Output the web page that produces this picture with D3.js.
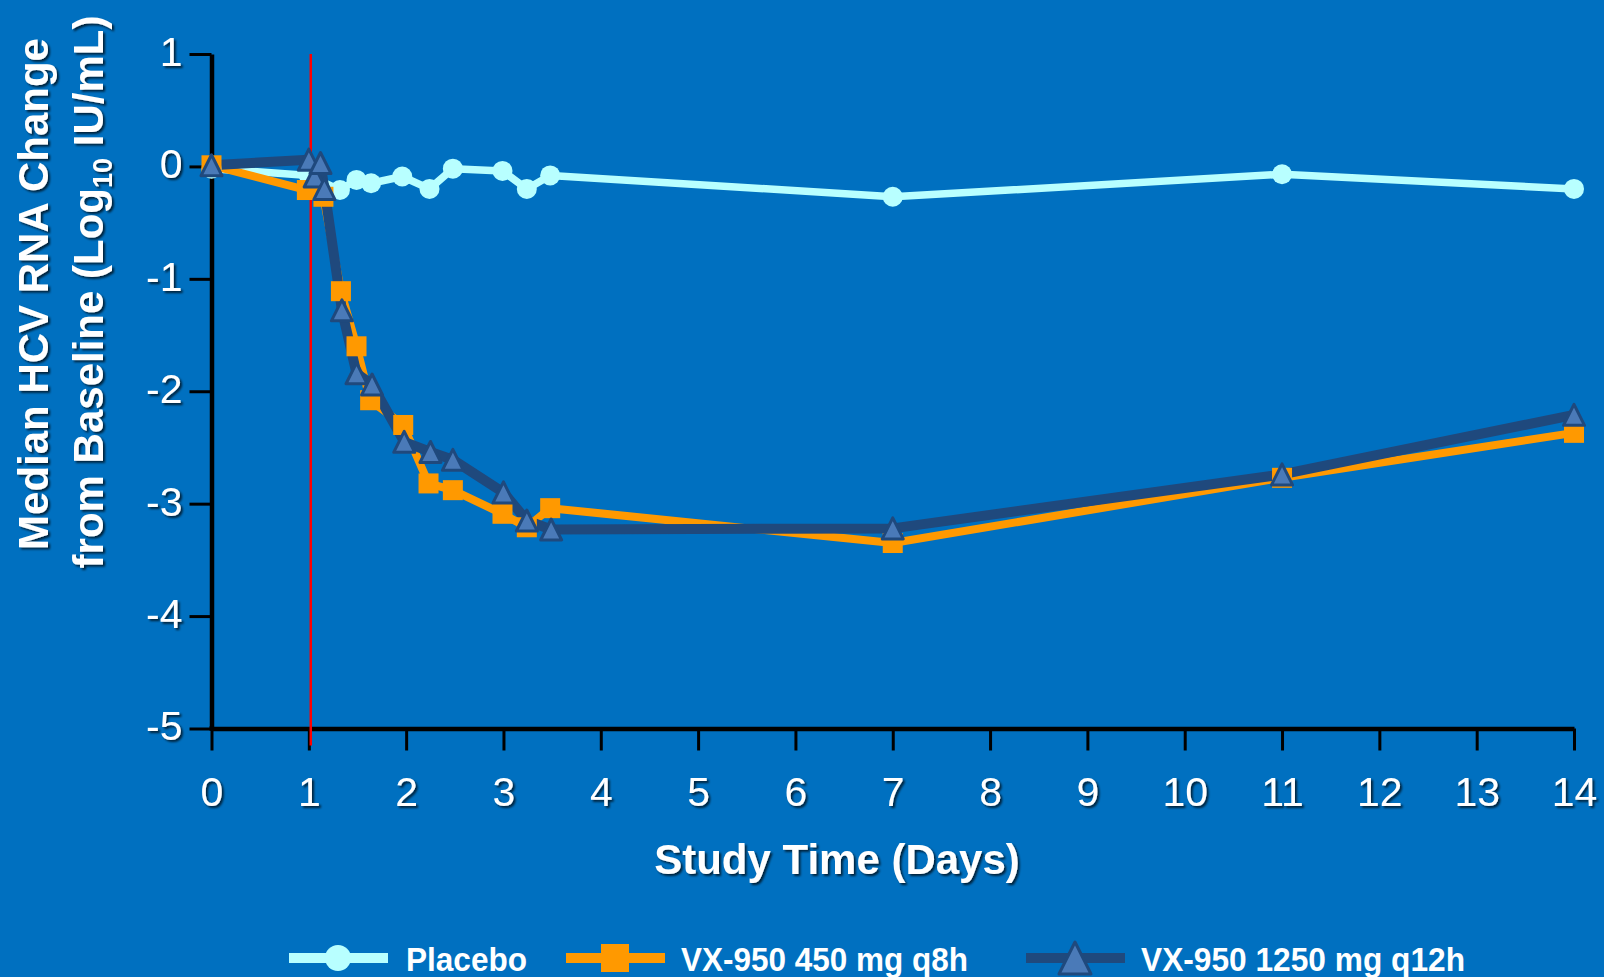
<!DOCTYPE html>
<html>
<head>
<meta charset="utf-8">
<script src="https://cdn.jsdelivr.net/npm/d3@7"></script>
<style>
  html, body { margin: 0; padding: 0; background: #0070c0; }
  svg { display: block; }
  text { font-family: Arial, "Liberation Sans", sans-serif; fill: #fff; }
</style>
</head>
<body>
<div id="chart"></div>
<script>
// x ticks / y ticks
var xTicks = [0, 1, 2, 3, 4, 5, 6, 7, 8, 9, 10, 11, 12, 13, 14];
var yTicks = [1, 0, -1, -2, -3, -4, -5];
var doseDay = 1.02;

// Placebo
var placeboDays = [0, 1, 1.32, 1.49, 1.64, 1.96, 2.24, 2.48, 2.99, 3.24, 3.48, 7, 11, 14];
var placeboVals = [-0.02, -0.08, -0.21, -0.12, -0.15, -0.09, -0.2, -0.02, -0.04, -0.2, -0.08, -0.27, -0.07, -0.2];

// VX-950 450 mg q8h
var q8Days = [0, 0.98, 1.15, 1.33, 1.49, 1.63, 1.97, 2.23, 2.48, 2.99, 3.24, 3.48, 7, 11, 14];
var q8Vals = [0.01, -0.21, -0.27, -1.11, -1.6, -2.08, -2.3, -2.82, -2.88, -3.09, -3.21, -3.04, -3.35, -2.77, -2.37];

// VX-950 1250 mg q12h
var q12Days = [0, 1.0, 1.06, 1.12, 1.16, 1.34, 1.49, 1.65, 1.98, 2.25, 2.48, 3.0, 3.24, 3.49, 7, 11, 14];
var q12Vals = [0.01, 0.06, -0.09, 0.03, -0.2, -1.28, -1.84, -1.94, -2.45, -2.54, -2.61, -2.9, -3.15, -3.23, -3.22, -2.74, -2.21];

var seriesNames = ["Placebo", "VX-950 450 mg q8h", "VX-950 1250 mg q12h"];

var W = 1604, H = 977;
var svg = d3.select("#chart").append("svg")
    .attr("width", W)
    .attr("height", H);

svg.append("rect").attr("width", W).attr("height", H).attr("fill", "#0070c0");

var defs = svg.append("defs");
var shadow = defs.append("filter").attr("id", "shadow")
    .attr("x", "-20%").attr("y", "-20%").attr("width", "140%").attr("height", "140%");
shadow.append("feDropShadow")
    .attr("dx", 2).attr("dy", 2).attr("stdDeviation", 1)
    .attr("flood-color", "#000").attr("flood-opacity", 0.7);

var x = d3.scaleLinear().domain([0, 14]).range([211.5, 1574]);
var y = d3.scaleLinear().domain([-5, 1]).range([728.5, 54]);

// axes
var yAxis = svg.append("g")
    .attr("transform", "translate(" + x(0) + ",0)")
    .call(d3.axisLeft(y).tickValues(yTicks).tickSize(22).tickSizeOuter(0).tickPadding(7)
        .tickFormat(function(d) { return String(d); }));
var xAxis = svg.append("g")
    .attr("transform", "translate(0," + y(-5) + ")")
    .call(d3.axisBottom(x).tickValues(xTicks).tickSize(22).tickSizeOuter(0).tickPadding(26));

[xAxis, yAxis].forEach(function(g) {
    g.select(".domain").attr("stroke", "#000").attr("stroke-width", 4.5);
    g.selectAll(".tick line").attr("stroke", "#000").attr("stroke-width", 3);
    g.selectAll(".tick text")
        .attr("fill", "#fff")
        .attr("font-size", 41)
        .attr("font-family", "Arial, 'Liberation Sans', sans-serif")
        .attr("filter", "url(#shadow)");
});
yAxis.selectAll(".tick text").attr("dy", "0.28em");
// extend the x axis line back under the y axis
svg.append("line")
    .attr("x1", x(0) - 2).attr("x2", x(0) + 2)
    .attr("y1", y(-5)).attr("y2", y(-5))
    .attr("stroke", "#000").attr("stroke-width", 4.5);

// dosing marker
svg.append("line")
    .attr("x1", x(doseDay)).attr("x2", x(doseDay))
    .attr("y1", y(1)).attr("y2", y(-5) + 17)
    .attr("stroke", "#ff0000").attr("stroke-width", 2.5);

function pts(days, vals) {
    return days.map(function(d, i) { return [d, vals[i]]; });
}
var series = [
    { name: seriesNames[0], data: pts(placeboDays, placeboVals), color: "#b8ffff", width: 7.5, marker: "circle" },
    { name: seriesNames[1], data: pts(q8Days, q8Vals), color: "#ff9900", width: 8, marker: "square" },
    { name: seriesNames[2], data: pts(q12Days, q12Vals), color: "#1f497d", width: 10, marker: "triangle" }
];

var line = d3.line()
    .x(function(d) { return x(d[0]); })
    .y(function(d) { return y(d[1]); });

series.forEach(function(s) {
    svg.append("path")
        .datum(s.data)
        .attr("d", line)
        .attr("fill", "none")
        .attr("stroke", s.color)
        .attr("stroke-width", s.width)
        .attr("stroke-linejoin", "round");
});

function triPath(w, h) {
    return "M0," + (-h / 2) + "L" + (w / 2) + "," + (h / 2) + "L" + (-w / 2) + "," + (h / 2) + "Z";
}

function drawMarker(g, type, size) {
    if (type === "circle") {
        g.append("circle").attr("r", size / 2).attr("fill", "#b8ffff");
    } else if (type === "square") {
        g.append("rect")
            .attr("x", -size / 2).attr("y", -size / 2)
            .attr("width", size).attr("height", size)
            .attr("fill", "#ff9900");
    } else {
        g.append("path")
            .attr("d", triPath(size, size))
            .attr("fill", "#4a7ab8")
            .attr("stroke", "#1f497d")
            .attr("stroke-width", 3)
            .attr("stroke-linejoin", "round");
    }
}

series.forEach(function(s) {
    var sz = s.marker === "circle" ? 20 : (s.marker === "square" ? 20 : 21);
    svg.append("g").selectAll("g")
        .data(s.data)
        .enter().append("g")
        .attr("transform", function(d) { return "translate(" + x(d[0]) + "," + y(d[1]) + ")"; })
        .each(function() { drawMarker(d3.select(this), s.marker, sz); });
});

// axis titles
svg.append("text")
    .attr("x", 837).attr("y", 874)
    .attr("text-anchor", "middle")
    .attr("font-size", 42)
    .attr("font-weight", "bold")
    .attr("filter", "url(#shadow)")
    .text("Study Time (Days)");

var yt = svg.append("g").attr("filter", "url(#shadow)");
yt.append("text")
    .attr("transform", "translate(48,294) rotate(-90)")
    .attr("text-anchor", "middle")
    .attr("font-size", 42)
    .attr("font-weight", "bold")
    .text("Median HCV RNA Change");
var t2 = yt.append("text")
    .attr("transform", "translate(103,292) rotate(-90)")
    .attr("text-anchor", "middle")
    .attr("font-size", 42)
    .attr("font-weight", "bold");
t2.append("tspan").text("from Baseline (Log");
t2.append("tspan").attr("font-size", 27).attr("dy", 9).text("10");
t2.append("tspan").attr("dy", -9).text(" IU/mL)");

// legend
var legendX = [289, 566, 1026];
var legendTextX = [406, 681, 1141];
var legendTextLen = [121, 287, 324];
var legendMarkerSize = [26, 28, 32];
var ly = 958;
series.forEach(function(s, i) {
    svg.append("line")
        .attr("x1", legendX[i]).attr("x2", legendX[i] + 99)
        .attr("y1", ly).attr("y2", ly)
        .attr("stroke", s.color)
        .attr("stroke-width", 10);
    var g = svg.append("g").attr("transform", "translate(" + (legendX[i] + 49) + "," + ly + ")");
    drawMarker(g, s.marker, legendMarkerSize[i]);
    svg.append("text")
        .attr("x", legendTextX[i]).attr("y", 971)
        .attr("font-size", 34)
        .attr("font-weight", "bold")
        .attr("textLength", legendTextLen[i])
        .attr("lengthAdjust", "spacingAndGlyphs")
        .text(s.name);
});
</script>
</body>
</html>
